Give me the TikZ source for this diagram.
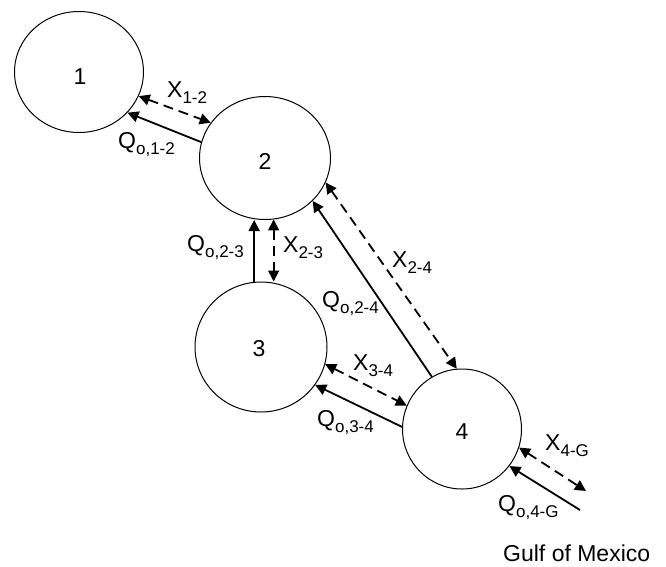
\documentclass[tikz,border=0pt]{standalone}
\usepackage{fontspec}
\setmainfont{Liberation Sans}
\usetikzlibrary{shapes.geometric,arrows.meta}
\newcommand{\sbx}[1]{\raisebox{-6pt}{\fontsize{17}{17}\selectfont #1}}
\tikzset{
  circ/.style={ellipse, draw, line width=1pt, inner sep=0pt},
  numlab/.style={font=\fontsize{23}{27}\selectfont, inner sep=0pt},
  lab/.style={font=\fontsize{23}{27}\selectfont, inner sep=0pt, anchor=base west},
  tipq/.tip={Triangle[length=11pt,width=11pt]},
  qarrow/.style={line width=1.8pt, -tipq},
  xarrow/.style={line width=1.8pt, dash pattern=on 10pt off 6pt, tipq-tipq}
}
\begin{document}
\begin{tikzpicture}[x=1pt,y=-1pt]
\useasboundingbox (0,0) rectangle (666,566);
% reservoirs
\node[circ, minimum width=129pt, minimum height=121pt] (c1) at (79,72) {};
\node[circ, minimum width=131pt, minimum height=123pt] (c2) at (265,158) {};
\node[circ, minimum width=132pt, minimum height=130pt] (c3) at (261,347) {};
\node[circ, minimum width=119pt, minimum height=120pt] (c4) at (462,429) {};
\node[numlab] (n1) at (80,77) {1};
\node[numlab] (n2) at (265,161) {2};
\node[numlab] (n3) at (259,349) {3};
\node[numlab] (n4) at (462,432) {4};
% free ends toward the Gulf
\coordinate (g1) at (586,491);
\coordinate (g2) at (580,510);
% connectors
\draw[qarrow] (c2.166) -- (c1.-40);
\draw[xarrow] (c1.-22) -- (c2.147);
\draw[qarrow] (c3.96) -- (c3.96 |- c2.south);
\draw[xarrow] (c2.-82) -- (c2.-82 |- c3.north);
\draw[qarrow] (c4.120) -- (c2.-42);
\draw[xarrow] (c2.-22) -- (c4.95);
\draw[xarrow] (c3.-15) -- (c4.157);
\draw[qarrow] (c4.178) -- (c3.-35);
\draw[xarrow] (c4.-18) -- (g1);
\draw[qarrow] (g2) -- (c4.-38);
% labels
\node[lab] (lx12) at (167,97) {X\sbx{1-2}};
\node[lab] (lq12) at (118,148) {Q\sbx{o,1-2}};
\node[lab] (lq23) at (187,251) {Q\sbx{o,2-3}};
\node[lab] (lx23) at (283,252) {X\sbx{2-3}};
\node[lab] (lx24) at (392,267) {X\sbx{2-4}};
\node[lab] (lq24) at (322,307) {Q\sbx{o,2-4}};
\node[lab] (lx34) at (353,370) {X\sbx{3-4}};
\node[lab] (lq34) at (317,426) {Q\sbx{o,3-4}};
\node[lab] (lx4g) at (545,450) {X\sbx{4-G}};
\node[lab] (lq4g) at (498,511) {Q\sbx{o,4-G}};
\node[lab] (gulf) at (503,561) {Gulf of Mexico};
\end{tikzpicture}
\end{document}
